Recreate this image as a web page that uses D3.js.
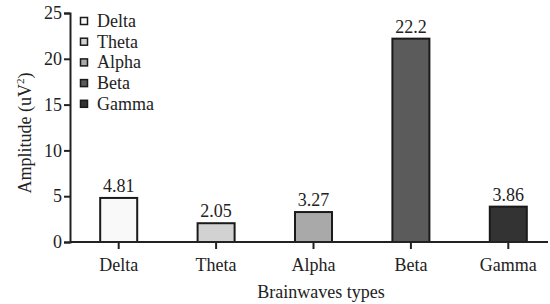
<!DOCTYPE html>
<html>
<head>
<meta charset="utf-8">
<script src="https://cdn.jsdelivr.net/npm/d3@7"></script>
<style>
body{margin:0;background:#fff;}
text{font-family:'Liberation Serif','Times New Roman',serif;fill:#222;}
</style>
</head>
<body>
<script>
// brainwave amplitudes
var waves=['Delta','Theta','Alpha','Beta','Gamma'];
var amplitude=[4.81,2.05,3.27,22.2,3.86];
var valueLabels=['4.81','2.05','3.27','22.2','3.86'];
var fills=['#f9f9f9','#d2d2d2','#a9a9a9','#5b5b5b','#333333'];
var yTicks=[0,5,10,15,20,25];

var W=550,H=304;
var mLeft=70,mRight=557,mTop=13,mBottom=242;
var serif="'Liberation Serif','Times New Roman',serif";
var fs='18px';

var svg=d3.select('body').append('svg').attr('width',W).attr('height',H);

var x=d3.scaleBand().domain(waves).range([mLeft,mRight]).paddingInner(0.62).paddingOuter(0.31);
var y=d3.scaleLinear().domain([0,25]).range([mBottom,mTop]);

// bars
svg.selectAll('rect.bar')
    .data(waves)
    .enter()
    .append('rect')
    .attr('class','bar')
    .attr('x',function(d){return x(d);})
    .attr('width',x.bandwidth())
    .attr('y',function(d,i){return y(amplitude[i]);})
    .attr('height',function(d,i){return mBottom-y(amplitude[i]);})
    .attr('fill',function(d,i){return fills[i];})
    .attr('stroke','#1a1a1a')
    .attr('stroke-width',2);

svg.selectAll('text.val')
    .data(waves)
    .enter()
    .append('text')
    .attr('class','val')
    .attr('x',function(d){return x(d)+x.bandwidth()/2;})
    .attr('y',function(d,i){return y(amplitude[i])-6;})
    .attr('text-anchor','middle')
    .style('font-size',fs)
    .text(function(d,i){return valueLabels[i];});

// y axis
var yAxis=svg.append('g').attr('transform','translate('+mLeft+',0)')
    .call(d3.axisLeft(y).tickValues(yTicks).tickSize(6).tickPadding(2).tickSizeOuter(6));
yAxis.attr('font-family',serif);
yAxis.select('.domain').attr('stroke','#222').attr('stroke-width',2);
yAxis.selectAll('.tick line').attr('stroke','#222').attr('stroke-width',2);
yAxis.selectAll('.tick text').style('font-size',fs).style('font-family',serif).attr('fill','#222');

// x axis
var xAxis=svg.append('g').attr('transform','translate(0,'+mBottom+')')
    .call(d3.axisBottom(x).tickSize(7).tickPadding(9));
xAxis.attr('font-family',serif);
xAxis.select('.domain').remove();
xAxis.append('line').attr('x1',mLeft).attr('x2',548).attr('y1',0).attr('y2',0)
    .attr('stroke','#222').attr('stroke-width',2);
xAxis.selectAll('.tick line').attr('stroke','#222').attr('stroke-width',2);
xAxis.selectAll('.tick text').style('font-size',fs).style('font-family',serif).attr('fill','#222');

// axis titles
svg.append('text')
    .attr('x',321).attr('y',298)
    .attr('text-anchor','middle')
    .style('font-size',fs)
    .text('Brainwaves types');

var yt=svg.append('text')
    .attr('transform','translate(31,133) rotate(-90)')
    .attr('text-anchor','middle')
    .style('font-size',fs);
yt.append('tspan').text('Amplitude (uV');
yt.append('tspan').attr('dy',-7).style('font-size','11px').text('2');
yt.append('tspan').attr('dy',7).text(')');

// legend
var legend=svg.selectAll('g.leg')
    .data(waves)
    .enter()
    .append('g')
    .attr('class','leg')
    .attr('transform',function(d,i){return 'translate(80,'+(21+i*20.7)+')';});
legend.append('rect')
    .attr('x',0.5).attr('y',-3.5).attr('width',7).attr('height',7)
    .attr('fill',function(d,i){return fills[i];})
    .attr('stroke','#1a1a1a').attr('stroke-width',1.5);
legend.append('text')
    .attr('x',17).attr('y',6)
    .style('font-size',fs)
    .text(function(d){return d;});
</script>
</body>
</html>
